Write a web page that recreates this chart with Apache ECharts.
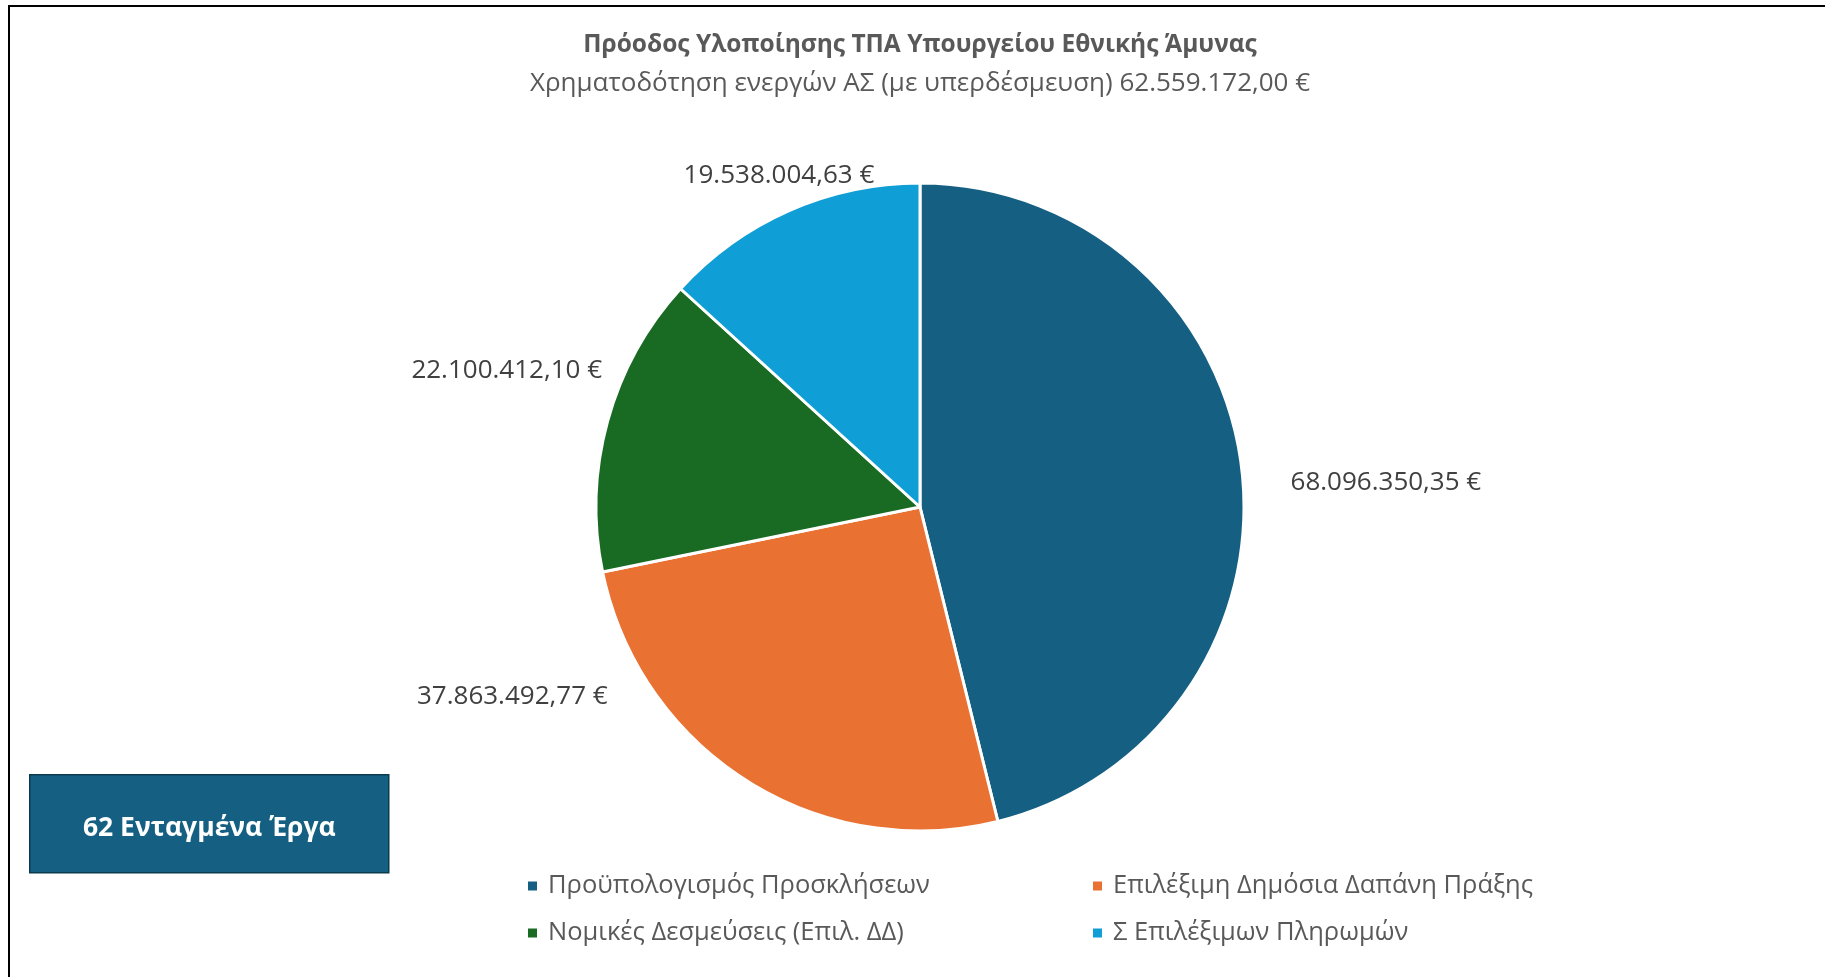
<!DOCTYPE html>
<html>
<head>
<meta charset="utf-8">
<script src="https://cdn.jsdelivr.net/npm/echarts@6/dist/echarts.min.js"></script>
<style>
  html, body { margin: 0; padding: 0; background: #fff; }
  #chart { width: 1825px; height: 977px; }
</style>
</head>
<body>
<div id="chart"></div>
<script>
  // data
  var categories = [
    'Προϋπολογισμός Προσκλήσεων',
    'Επιλέξιμη Δημόσια Δαπάνη Πράξης',
    'Νομικές Δεσμεύσεις (Επιλ. ΔΔ)',
    'Σ Επιλέξιμων Πληρωμών'
  ];
  var values = [68096350.35, 37863492.77, 22100412.10, 19538004.63];
  var colors = ['#156082', '#E97132', '#196B24', '#0F9ED5'];
  var titleText = 'Πρόοδος Υλοποίησης ΤΠΑ Υπουργείου Εθνικής Άμυνας';
  var subtitleText = 'Χρηματοδότηση ενεργών ΑΣ (με υπερδέσμευση) 62.559.172,00 €';
  var boxText = '62 Ενταγμένα Έργα';

  // label nudges from the default outside position (style only)
  var labelNudge = [[2, 16], [-98, -95], [41, -47], [125, -24]];

  var FONT = '"Open Sans", "Noto Sans", sans-serif';

  function euro(v) {
    var parts = v.toFixed(2).split('.');
    var intPart = parts[0].replace(/\B(?=(\d{3})+(?!\d))/g, '.');
    return intPart + ',' + parts[1] + ' €';
  }

  var chart = echarts.init(document.getElementById('chart'));

  var legendText = { fontFamily: FONT, fontSize: 25.5, color: '#595959', padding: [0, 0, 0, 5] };

  var option = {
    backgroundColor: '#fff',
    color: colors,
    title: {
      text: titleText,
      subtext: subtitleText,
      left: 920,
      textAlign: 'center',
      top: 33,
      itemGap: 13,
      padding: 0,
      textStyle: { fontFamily: FONT, fontSize: 24.5, fontWeight: 'bold', color: '#595959' },
      subtextStyle: { fontFamily: FONT, fontSize: 26, color: '#595959' }
    },
    legend: [{
      orient: 'vertical',
      left: 526,
      top: 873,
      padding: 0,
      itemWidth: 11,
      itemHeight: 11,
      itemGap: 21,
      icon: 'rect',
      data: [categories[0], categories[2]],
      textStyle: legendText
    }, {
      orient: 'vertical',
      left: 1091,
      top: 873,
      padding: 0,
      itemWidth: 11,
      itemHeight: 11,
      itemGap: 21,
      icon: 'rect',
      data: [categories[1], categories[3]],
      textStyle: legendText
    }],
    graphic: [{
      type: 'polyline',
      shape: { points: [[9, 977], [9, 6], [1825, 6]] },
      style: { stroke: '#000', lineWidth: 2, fill: null }
    }, {
      type: 'rect',
      left: 29,
      top: 774,
      shape: { width: 359, height: 98 },
      style: { fill: '#156082', stroke: '#0c3a4f', lineWidth: 1.5 },
      textContent: {
        style: {
          text: boxText,
          fill: '#fff',
          font: 'bold 26.5px ' + FONT
        }
      },
      textConfig: { position: 'inside', offset: [0, 5] }
    }],
    series: [{
      type: 'pie',
      center: [920, 507],
      radius: 324,
      startAngle: 90,
      clockwise: true,
      avoidLabelOverlap: false,
      itemStyle: { borderColor: '#fff', borderWidth: 3 },
      label: {
        show: true,
        position: 'outside',
        formatter: function (p) { return euro(p.value); },
        fontFamily: FONT,
        fontSize: 26,
        color: '#404040'
      },
      labelLine: { show: false, length: 12, length2: 30 },
      labelLayout: function (params) {
        var n = labelNudge[params.dataIndex];
        return { dx: n[0], dy: n[1] };
      },
      emphasis: { disabled: true },
      data: categories.map(function (c, i) {
        return { name: c, value: values[i] };
      })
    }]
  };

  chart.setOption(option);
</script>
</body>
</html>
